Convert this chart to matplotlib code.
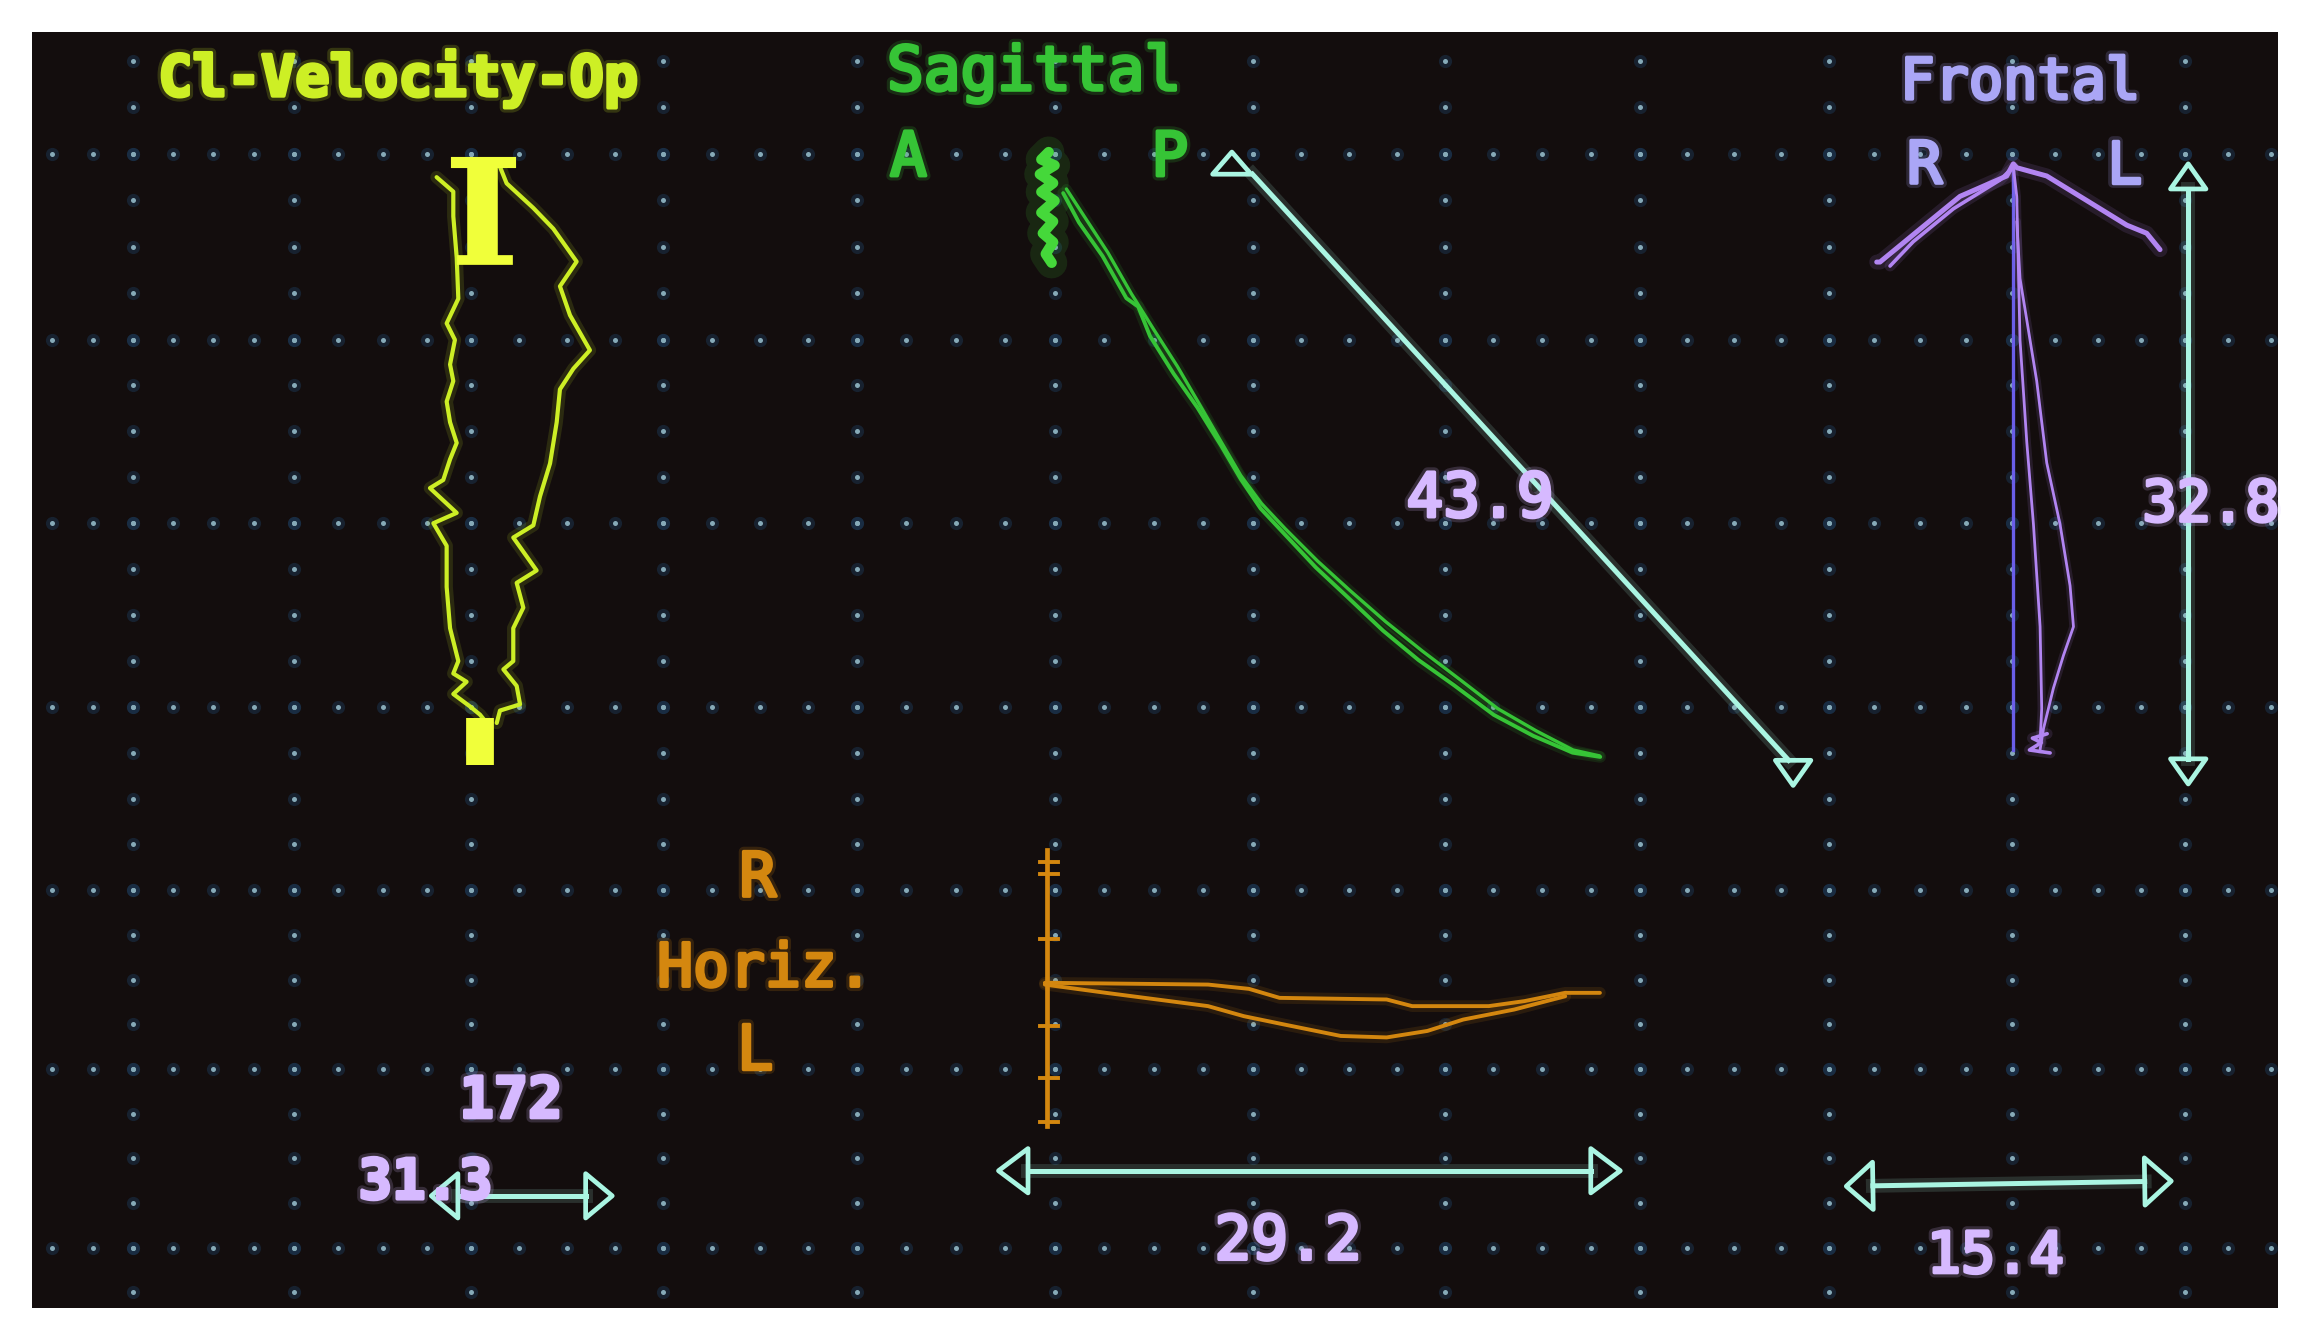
import numpy as np
import matplotlib.pyplot as plt
import matplotlib.patheffects as pe
from matplotlib.patches import Rectangle, Polygon

# screen units of the photo (x right, y down), 1568 x 909
grid_cols = [90, 199, 319, 449, 580, 714, 848, 978, 1110, 1238, 1362, 1479]
grid_rows = [104, 230, 354, 479, 603, 724, 845]

# Cl-Velocity-Op loop (left edge down, right edge down)
vel_left_x = [295.6, 306.9, 306.9, 309.2, 310.3, 302.4, 308.0, 304.7, 306.9, 302.4, 304.7, 309.2, 304.7,
              300.1, 291.1, 309.2, 293.4, 302.4, 302.4, 304.7, 310.3, 306.9, 315.9, 306.9, 318.2, 325.0, 329.5]
vel_left_y = [120.0, 129.8, 146.5, 174.4, 202.3, 219.0, 230.2, 246.9, 258.1, 272.0, 286.0, 300.0, 311.1,
              325.1, 330.6, 347.4, 354.4, 369.7, 397.6, 425.5, 447.8, 456.2, 461.8, 470.1, 478.5, 484.1, 489.7]
vel_right_x = [338.5, 343.0, 361.1, 374.6, 390.4, 379.1, 385.9, 399.4, 388.2, 379.1, 376.9, 372.4, 365.6,
               361.1, 347.5, 363.3, 349.8, 354.3, 347.5, 347.5, 340.8, 349.8, 352.1, 338.5, 336.3]
vel_right_y = [113.0, 124.2, 140.9, 154.9, 177.2, 193.9, 213.5, 237.2, 249.7, 263.7, 286.0, 313.9, 336.2,
               355.8, 364.1, 386.4, 394.8, 411.6, 425.5, 447.8, 453.4, 464.6, 477.1, 481.3, 489.7]

# Sagittal traces
sag_a_x = [719.8, 730.5, 746.5, 762.6, 770.6, 778.6, 794.7, 810.7, 826.7, 840.1, 853.5, 869.5, 890.9,
           912.3, 936.4, 960.4, 984.5, 1011.3, 1038.0, 1064.7, 1083.4]
sag_a_y = [130.8, 150.7, 173.5, 202.0, 207.7, 227.7, 253.3, 276.1, 301.8, 324.6, 344.5, 361.6, 384.4,
           404.4, 427.2, 447.1, 464.2, 484.2, 498.4, 509.8, 512.7]
sag_b_x = [722, 735, 750, 766, 781, 797, 811, 826, 840, 854, 870, 892, 914, 938, 963, 988, 1014, 1040, 1065, 1083]
sag_b_y = [128, 148, 171, 199, 223, 248, 272, 298, 322, 341, 358, 380, 400, 421, 441, 460, 480, 495, 508, 512]
sag_start_x = [710, 705, 714, 704, 713, 705, 714, 705, 713, 706, 713, 708, 712]
sag_start_y = [103, 108, 112, 118, 124, 130, 136, 144, 150, 158, 164, 172, 178]

# Frontal traces
fro_arm_x = [1270.6, 1272.8, 1299.9, 1327.0, 1358.6, 1363.1, 1365.4, 1385.7, 1417.3, 1439.9, 1453.4, 1462.4]
fro_arm_y = [177.5, 177.5, 155.2, 133.0, 119.2, 111.0, 113.6, 119.2, 138.6, 152.5, 158.0, 169.1]
fro_arm2_x = [1279.6, 1295.4, 1322.5, 1354.1, 1363.1]
fro_arm2_y = [180.2, 163.6, 141.4, 121.9, 113.0]
fro_a_x = [1363.1, 1365.4, 1367.6, 1372.2, 1376.7, 1381.2, 1382.3, 1381.2]
fro_a_y = [113.0, 133.0, 230.2, 299.6, 355.1, 424.5, 480.0, 502.3]
fro_b_x = [1365.4, 1367.6, 1378.9, 1385.7, 1394.7, 1401.5, 1403.8, 1397.0, 1390.2, 1383.4, 1381.2]
fro_b_y = [150.0, 188.6, 258.0, 313.5, 355.1, 396.8, 424.5, 444.0, 466.2, 494.0, 507.8]
fro_end_x = [1386, 1376, 1382, 1374, 1388]
fro_end_y = [497, 500, 503, 508, 510]

# Horizontal traces
hor_a_x = [707.4, 817.9, 845.6, 866.3, 938.8, 956.1, 1007.9, 1032.1, 1059.7, 1083.2]
hor_a_y = [665.7, 666.9, 669.8, 675.9, 677.0, 681.5, 681.5, 678.1, 672.5, 672.5]
hor_b_x = [707.4, 748.8, 783.4, 817.9, 842.1, 869.7, 907.7, 938.8, 966.4, 990.6, 1025.2, 1059.7]
hor_b_y = [666.9, 672.5, 677.0, 681.5, 688.3, 694.0, 701.7, 702.7, 698.3, 690.6, 683.8, 674.8]
hor_ticks = [584, 592, 636, 695, 730, 760]

readouts = ["43.9", "32.8", "29.2", "15.4", "172", "31.3"]

BG = '#130d0d'
YEL = '#cdef25'
GRN = '#36c436'
PUR = '#b285f2'
LAV = '#d6b9ff'
HDR = '#aaa6f6'
ORG = '#d4870f'
CYA = '#aaf5e2'

fig = plt.figure(figsize=(23.16, 13.42), dpi=100, facecolor='white')
ax = fig.add_axes([0, 0, 1, 1])
ax.set_xlim(0, 1568)
ax.set_ylim(909, 0)
ax.axis('off')

screen = Rectangle((22, 22), 1520, 864, facecolor=BG, edgecolor='none', zorder=0)
ax.add_patch(screen)


# dotted graticule
def subdivide(pos, lo, hi):
    out = []
    for a, b in zip(pos[:-1], pos[1:]):
        out.extend(np.linspace(a, b, 5)[:-1])
    out.append(pos[-1])
    step0 = (pos[1] - pos[0]) / 4
    step1 = (pos[-1] - pos[-2]) / 4
    v = pos[0] - step0
    while v >= lo:
        out.insert(0, v)
        v -= step0
    v = pos[-1] + step1
    while v <= hi:
        out.append(v)
        v += step1
    return np.array(out)


row_dots = subdivide(grid_cols, 26, 1540)
col_dots = subdivide(grid_rows, 30, 882)
dx, dy = [], []
for r in grid_rows:
    dx.extend(row_dots)
    dy.extend([r] * len(row_dots))
for c in grid_cols:
    dx.extend([c] * len(col_dots))
    dy.extend(col_dots)
ax.scatter(dx, dy, s=90, color='#1c3b5a', alpha=0.45, linewidths=0, zorder=1)
ax.scatter(dx, dy, s=13, color='#86aab8', linewidths=0, zorder=1)


def trace(x, y, color, lw, alpha=1.0):
    ax.plot(x, y, color=color, lw=lw * 3, alpha=0.13, solid_joinstyle='round', solid_capstyle='round', zorder=2)
    ax.plot(x, y, color=color, lw=lw, alpha=alpha, solid_joinstyle='round', solid_capstyle='round', zorder=3)


# velocity loop
trace(vel_left_x, vel_left_y, YEL, 3.0)
trace(vel_right_x, vel_right_y, YEL, 3.0)
ax.plot([326, 326], [110, 178], color='#f0ff3a', lw=22, solid_capstyle='butt', zorder=3)
ax.plot([309, 345], [110, 110], color='#f0ff3a', lw=8, zorder=3)
ax.plot([313, 344], [176, 176], color='#f0ff3a', lw=7, zorder=3)
ax.plot([325, 325], [486, 518], color='#f0ff3a', lw=20, solid_capstyle='butt', zorder=3)

# sagittal
trace(sag_a_x, sag_a_y, GRN, 2.8)
trace(sag_b_x, sag_b_y, GRN, 2.4)
trace(sag_start_x, sag_start_y, '#45d83a', 7.5)

# frontal
ax.plot([1363.1, 1363.1], [113, 508], color='#6a5ee8', lw=2.4, zorder=2)
trace(fro_arm_x, fro_arm_y, PUR, 3.6)
trace(fro_arm2_x, fro_arm2_y, PUR, 2.6)
trace(fro_a_x, fro_a_y, PUR, 2.0)
trace(fro_b_x, fro_b_y, PUR, 2.0)
trace(fro_end_x, fro_end_y, PUR, 2.6)

# horizontal
ax.plot([709, 709], [576, 763], color=ORG, lw=3.4, zorder=3)
for t in hor_ticks:
    ax.plot([704, 716], [t, t], color=ORG, lw=2.8, zorder=3)
trace(hor_a_x, hor_a_y, ORG, 2.8)
trace(hor_b_x, hor_b_y, ORG, 2.8)


# cyan measurement cursors
def open_head(tip, direction, depth, half):
    d = np.array(direction, float)
    d /= np.hypot(*d)
    p = np.array([-d[1], d[0]])
    tip = np.array(tip, float)
    base = tip - d * depth
    verts = [tip, base + p * half, base - p * half]
    ax.add_patch(Polygon(verts, closed=True, fill=False, edgecolor=CYA, lw=3.4, joinstyle='round', zorder=4))


def cyan_line(xs, ys):
    ax.plot(xs, ys, color=CYA, lw=10, alpha=0.15, zorder=3)
    ax.plot(xs, ys, color=CYA, lw=3.6, zorder=4)


def cursor(p0, p1, depth, half):
    p0 = np.array(p0, float)
    p1 = np.array(p1, float)
    d = (p1 - p0) / np.hypot(*(p1 - p0))
    cyan_line([p0[0] + d[0] * depth, p1[0] - d[0] * depth], [p0[1] + d[1] * depth, p1[1] - d[1] * depth])
    open_head(p0, -d, depth, half)
    open_head(p1, d, depth, half)


# diagonal cursor: heads stay vertical
cyan_line([848, 1211], [118, 515])
open_head((834, 103), (0, -1), 15, 13)
open_head((1214, 532), (0, 1), 17, 12)

cursor((1481.5, 111), (1481.5, 531), 17, 12)
cursor((676, 793), (1097, 793), 20, 15)
cursor((1250, 803.5), (1470, 800), 18, 16)
cursor((292, 810), (414.5, 810), 18, 15)


def label(s, x, y, color, size, weight='normal'):
    t = ax.text(x, y, s, color=color, fontsize=size, fontfamily='DejaVu Sans Mono', fontweight=weight,
                ha='center', va='baseline', zorder=5,
                path_effects=[pe.withStroke(linewidth=7, foreground=color, alpha=0.18),
                              pe.withStroke(linewidth=2.5, foreground=color)])
    t.set_clip_path(screen)
    return t


label("Cl-Velocity-Op", 270, 65, YEL, 41, 'bold')
label("Sagittal", 700, 61, GRN, 44)
label("A", 615, 119, GRN, 44)
label("P", 792, 119, GRN, 44)
label("Frontal", 1368, 67, HDR, 41)
label("R", 1303, 124, HDR, 42)
label("L", 1438, 124, HDR, 42)
label("R", 513, 607, ORG, 44)
label("Horiz.", 518, 668, ORG, 43)
label("L", 511, 724, ORG, 44)
label(readouts[0], 1002, 350, LAV, 44)
label(readouts[1], 1497, 353, LAV, 41)
label(readouts[2], 872, 853, LAV, 44)
label(readouts[3], 1351, 862, LAV, 41)
label(readouts[4], 346, 757, LAV, 41, 'bold')
label(readouts[5], 288, 812, LAV, 40, 'bold')

fig.savefig('out.png', dpi=100, facecolor='white')
